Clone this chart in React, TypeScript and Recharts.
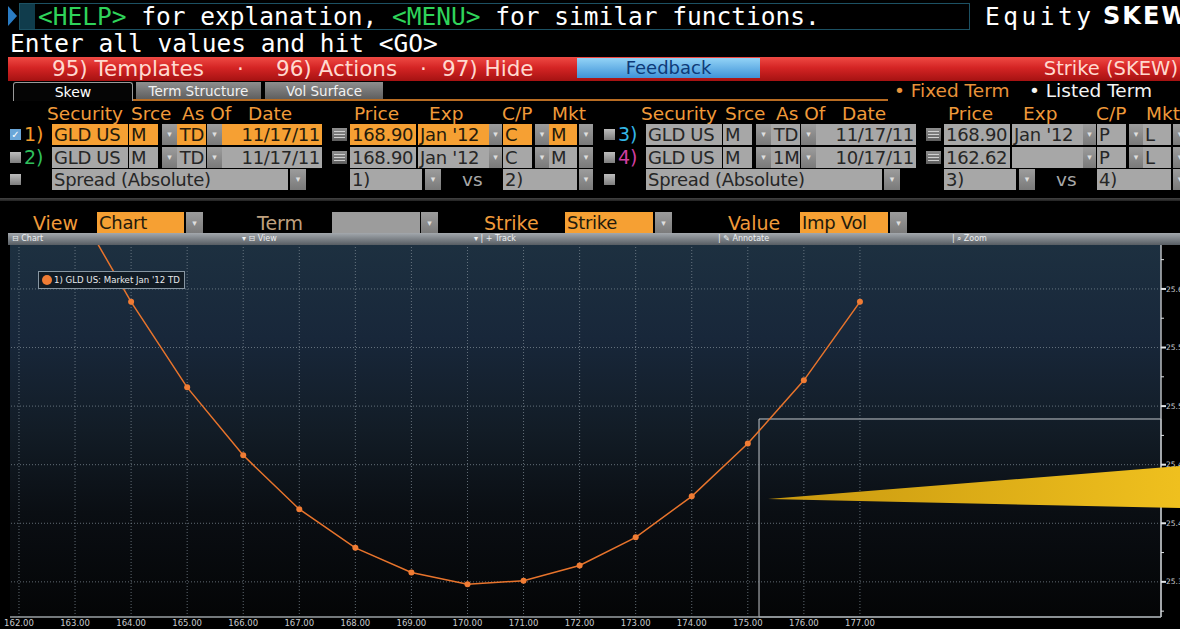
import React from "react";
import { LineChart, Line, XAxis, YAxis, ReferenceLine, ReferenceArea, Legend } from "recharts";

// ---------- chart data ----------
const strikes = [163, 164, 165, 166, 167, 168, 169, 170, 171, 172, 173, 174, 175, 176, 177];
const impVol = [25.672, 25.589, 25.516, 25.458, 25.412, 25.379, 25.358, 25.348, 25.351, 25.364, 25.388, 25.423, 25.468, 25.522, 25.589];
const strikeTicks = [162, 163, 164, 165, 166, 167, 168, 169, 170, 171, 172, 173, 174, 175, 176, 177];
const volTicks = [25.35, 25.4, 25.45, 25.5, 25.55, 25.6];
const volMinorTicks = [25.325, 25.375, 25.425, 25.475, 25.525, 25.575, 25.625];
const seriesName = "1) GLD US: Market Jan '12 TD";
const strikeDomain: [number, number] = [161.84, 182.37];
const volDomain: [number, number] = [25.32, 25.6375];
const zoomBoxStrike = 175.2;
const zoomBoxVol = 25.489;

const data = strikes.map((s, i) => ({ strike: s, vol: impVol[i] }));
const allVolTicks = [...volTicks, ...volMinorTicks].sort((a, b) => a - b);

// ---------- header data ----------
const headerLabels = ["Security", "Srce", "As Of", "Date", "Price", "Exp", "C/P", "Mkt"];
const headerOffsets = [-5, 79, 130, 196, 302, 377, 450, 500];
const rowsLeft = [
  { num: "1)", numColor: "#f39a2a", active: true, vals: ["GLD US", "M", "TD", "11/17/11", "168.90", "Jan '12", "C", "M"] },
  { num: "2)", numColor: "#2fbf5c", active: false, vals: ["GLD US", "M", "TD", "11/17/11", "168.90", "Jan '12", "C", "M"] },
];
const rowsRight = [
  { num: "3)", numColor: "#34b6e6", active: false, vals: ["GLD US", "M", "TD", "11/17/11", "168.90", "Jan '12", "P", "L"] },
  { num: "4)", numColor: "#d23fa0", active: false, vals: ["GLD US", "M", "1M", "10/17/11", "162.62", "", "P", "L"] },
];

const F = "'DejaVu Sans', sans-serif";
const MONO = "'DejaVu Sans Mono', monospace";
const ORANGE_BG = "#f6a033";
const GREY_BG = "#a7a7a7";
const LBL = "#f09a3a";

type AnyP = any;

function Txt({ x, y, h = 20, size = 18.5, color = "#fff", children, font = F, bold = false, ls = 0, w, align }: AnyP) {
  return (
    <div
      style={{
        position: "absolute",
        left: x,
        top: y,
        height: h,
        width: w,
        lineHeight: h + "px",
        fontSize: size,
        color,
        fontFamily: font,
        fontWeight: bold ? 700 : 400,
        whiteSpace: "nowrap",
        letterSpacing: ls,
        textAlign: align,
      }}
    >
      {children}
    </div>
  );
}

function Fld({ x, y, w, h = 21, bg, text = "", color = "#231a0c", align = "left" }: AnyP) {
  return (
    <div
      style={{
        position: "absolute",
        left: x,
        top: y,
        width: w,
        height: h,
        lineHeight: h + "px",
        background: bg,
        color,
        fontSize: 18,
        letterSpacing: -0.3,
        fontFamily: F,
        padding: "0 2px",
        boxSizing: "border-box",
        textAlign: align,
        whiteSpace: "nowrap",
      }}
    >
      {text}
    </div>
  );
}

function Arr({ x, y, w = 15, h = 21 }: AnyP) {
  return (
    <div
      style={{
        position: "absolute",
        left: x,
        top: y,
        width: w,
        height: h,
        background: "linear-gradient(#9c9c9c,#7a7a7a)",
        color: "#dedede",
        fontSize: 9,
        lineHeight: h + "px",
        textAlign: "center",
        fontFamily: F,
      }}
    >
      ▾
    </div>
  );
}

function Chk({ x, y, checked }: AnyP) {
  return (
    <div
      style={{
        position: "absolute",
        left: x,
        top: y,
        width: 11,
        height: 11,
        background: checked ? "#6aa6d8" : "linear-gradient(#bdbdbd,#7d7d7d)",
        color: "#fff",
        fontSize: 10,
        lineHeight: "11px",
        textAlign: "center",
        fontFamily: F,
      }}
    >
      {checked ? "✓" : ""}
    </div>
  );
}

function CalIcon({ x, y }: AnyP) {
  return (
    <div style={{ position: "absolute", left: x, top: y + 4, width: 15, height: 13, background: "linear-gradient(#8e8e8e,#5e5e5e)" }}>
      <div style={{ position: "absolute", left: 2, top: 3, width: 11, height: 1, background: "#d0d0d0" }} />
      <div style={{ position: "absolute", left: 2, top: 6, width: 11, height: 1, background: "#d0d0d0" }} />
      <div style={{ position: "absolute", left: 2, top: 9, width: 11, height: 1, background: "#d0d0d0" }} />
    </div>
  );
}

function SecurityRow({ base, y, row }: AnyP) {
  const bg = row.active ? ORANGE_BG : GREY_BG;
  const tc = row.active ? "#231a0c" : "#262626";
  const v = row.vals;
  return (
    <>
      <Chk x={base - 42} y={y + 5} checked={row.active} />
      <Txt x={base - 28} y={y} h={21} size={19} color={row.numColor}>{row.num}</Txt>
      <Fld x={base} y={y} w={76} bg={bg} color={tc} text={v[0]} />
      <Fld x={base + 77} y={y} w={29} bg={bg} color={tc} text={v[1]} />
      <Arr x={base + 110} y={y} />
      <Fld x={base + 125} y={y} w={29} bg={bg} color={tc} text={v[2]} align="right" />
      <Arr x={base + 155} y={y} />
      <Fld x={base + 170} y={y} w={100} bg={bg} color={tc} text={v[3]} align="right" />
      <CalIcon x={base + 280} y={y} />
      <Fld x={base + 298} y={y} w={66} bg={bg} color={tc} text={v[4]} />
      <Fld x={base + 366} y={y} w={71} bg={bg} color={tc} text={v[5]} />
      <Arr x={base + 437} y={y} w={13} />
      <Fld x={base + 451} y={y} w={29} bg={bg} color={tc} text={v[6]} />
      <Arr x={base + 483} y={y} w={14} />
      <Fld x={base + 497} y={y} w={28} bg={bg} color={tc} text={v[7]} />
      <Arr x={base + 527} y={y} w={14} />
    </>
  );
}

function SpreadRow({ base, y, a, b }: AnyP) {
  return (
    <>
      <Chk x={base - 42} y={y + 5} checked={false} />
      <Fld x={base} y={y} w={236} bg={GREY_BG} color="#262626" text="Spread (Absolute)" />
      <Arr x={base + 238} y={y} w={16} />
      <Fld x={base + 298} y={y} w={72} bg={GREY_BG} color="#262626" text={a} />
      <Arr x={base + 373} y={y} w={16} />
      <Txt x={base + 410} y={y} h={21} size={18.5} color="#a8a8a8">vs</Txt>
      <Fld x={base + 451} y={y} w={74} bg={GREY_BG} color="#262626" text={b} />
      <Arr x={base + 527} y={y} w={14} />
    </>
  );
}

const VolTick = (props: AnyP) => {
  const { x, y, payload } = props;
  const val = payload.value as number;
  const major = volTicks.some((t) => Math.abs(t - val) < 1e-6);
  return (
    <g>
      <line x1={x} x2={x + (major ? 5 : 3)} y1={y} y2={y} stroke="#dfe2e5" strokeWidth={major ? 2 : 1} />
      {major && (
        <text x={x + 5} y={y} dy="0.35em" fontSize={7.5} fill="#c9cdd0" fontFamily={F}>
          {val.toFixed(2)}
        </text>
      )}
    </g>
  );
};

const LegendBox = () => (
  <div
    style={{
      display: "flex",
      alignItems: "center",
      height: 16,
      border: "1px solid #8796a2",
      background: "#111b24",
      padding: "0 4px 0 3px",
      fontSize: 8.6,
      color: "#e8eaec",
      fontFamily: F,
      whiteSpace: "nowrap",
    }}
  >
    <span style={{ display: "inline-block", width: 10, height: 10, borderRadius: "50%", background: "#f07c34", marginRight: 2 }} />
    {seriesName}
  </div>
);

export default function App() {
  return (
    <div
      style={{
        position: "absolute",
        left: 0,
        top: 0,
        width: 1180,
        height: 629,
        background: "#000",
        overflow: "hidden",
        fontFamily: F,
      }}
    >
      {/* Row 1: help line */}
      <svg style={{ position: "absolute", left: 0, top: 0 }} width={40} height={34}>
        <polygon points="8,6 17,16 8,26" fill="#2a7cc4" />
        <rect x={19} y={3} width={16} height={27} fill="#103c4c" />
      </svg>
      <div style={{ position: "absolute", left: 19, top: 3, width: 951, height: 27, border: "1.5px solid #1c5163", boxSizing: "border-box" }} />
      <Txt x={38} y={3} h={27} size={24.5} font={MONO}>
        <span style={{ color: "#2fd35a" }}>&lt;HELP&gt;</span> for explanation, <span style={{ color: "#2fd35a" }}>&lt;MENU&gt;</span> for similar functions.
      </Txt>
      <Txt x={985} y={3} h={27} size={24.5} font={MONO} ls={3.5}>Equity</Txt>
      <Txt x={1103} y={3} h={27} size={24} bold ls={2}>SKEW</Txt>

      {/* Row 2 */}
      <Txt x={10} y={30} h={27} size={24.5} font={MONO}>Enter all values and hit &lt;GO&gt;</Txt>

      {/* Row 3: red bar */}
      <div style={{ position: "absolute", left: 8, top: 57, width: 1172, height: 24, background: "linear-gradient(#ef4a44 0%, #d42424 45%, #a51212 100%)" }} />
      <Txt x={52} y={57} h={24} size={21.5} color="#ffd9cf">95) Templates</Txt>
      <Txt x={237} y={57} h={24} size={21.5} color="#ffd9cf">·</Txt>
      <Txt x={276} y={57} h={24} size={21.5} color="#ffd9cf">96) Actions</Txt>
      <Txt x={420} y={57} h={24} size={21.5} color="#ffd9cf">·</Txt>
      <Txt x={442} y={57} h={24} size={21.5} color="#ffd9cf">97) Hide</Txt>
      <div
        style={{
          position: "absolute",
          left: 577,
          top: 58,
          width: 183,
          height: 20,
          background: "linear-gradient(#93d3f6, #3f93d8)",
          color: "#0d3a78",
          fontSize: 18,
          lineHeight: "20px",
          textAlign: "center",
          fontFamily: F,
        }}
      >
        Feedback
      </div>
      <Txt x={960} y={57} w={218} align="right" h={24} size={19.5} color="#ffd9cf">Strike (SKEW)</Txt>

      {/* Row 4: tabs */}
      <div style={{ position: "absolute", left: 13, top: 82, width: 120, height: 19, background: "#050505", border: "1px solid #9a9a9a", borderBottom: "none", borderRadius: "3px 3px 0 0", boxSizing: "border-box", color: "#fff", fontSize: 14, lineHeight: "18px", textAlign: "center", fontFamily: F }}>Skew</div>
      <div style={{ position: "absolute", left: 136, top: 82, width: 125, height: 18, background: "linear-gradient(#8e8e8e,#5c5c5c)", color: "#f2f2f2", fontSize: 13.5, lineHeight: "18px", textAlign: "center", fontFamily: F }}>Term Structure</div>
      <div style={{ position: "absolute", left: 265, top: 82, width: 118, height: 18, background: "linear-gradient(#8e8e8e,#5c5c5c)", color: "#f2f2f2", fontSize: 13.5, lineHeight: "18px", textAlign: "center", fontFamily: F }}>Vol Surface</div>
      <div style={{ position: "absolute", left: 133, top: 99, width: 755, height: 2, background: "#b86c22" }} />
      <Txt x={894} y={81} h={20} size={18.5} color="#e8923a">• Fixed Term</Txt>
      <Txt x={1029} y={81} h={20} size={18.5} color="#f4f4f4">• Listed Term</Txt>

      {/* Row 5: column headers */}
      {headerLabels.map((l, i) => (
        <Txt key={"hl" + i} x={52 + headerOffsets[i]} y={103} h={21} color={LBL}>{l}</Txt>
      ))}
      {headerLabels.map((l, i) => (
        <Txt key={"hr" + i} x={646 + headerOffsets[i]} y={103} h={21} color={LBL}>{l}</Txt>
      ))}

      {/* Rows 6-8 */}
      <SecurityRow base={52} y={124} row={rowsLeft[0]} />
      <SecurityRow base={52} y={147} row={rowsLeft[1]} />
      <SecurityRow base={646} y={124} row={rowsRight[0]} />
      <SecurityRow base={646} y={147} row={rowsRight[1]} />
      <SpreadRow base={52} y={169} a="1)" b="2)" />
      <SpreadRow base={646} y={169} a="3)" b="4)" />

      <div style={{ position: "absolute", left: 0, top: 198, width: 1180, height: 3, background: "linear-gradient(#444,#222)" }} />

      {/* Row 9: view selectors */}
      <Txt x={33} y={212} h={22} size={19} color={LBL}>View</Txt>
      <Fld x={97} y={212} w={87} h={22} bg={ORANGE_BG} text="Chart" />
      <Arr x={186} y={212} w={17} h={22} />
      <Txt x={257} y={212} h={22} size={19} color="#bfa07f">Term</Txt>
      <Fld x={332} y={212} w={88} h={22} bg="#9c9c9c" text="" />
      <Arr x={421} y={212} w={17} h={22} />
      <Txt x={484} y={212} h={22} size={19} color={LBL}>Strike</Txt>
      <Fld x={565} y={212} w={88} h={22} bg={ORANGE_BG} text="Strike" />
      <Arr x={655} y={212} w={17} h={22} />
      <Txt x={728} y={212} h={22} size={19} color={LBL}>Value</Txt>
      <Fld x={800} y={212} w={88} h={22} bg={ORANGE_BG} text="Imp Vol" />
      <Arr x={890} y={212} w={17} h={22} />

      {/* Toolbar strip */}
      <div style={{ position: "absolute", left: 8, top: 233, width: 1172, height: 12, background: "linear-gradient(#a3a8ad,#575d63)" }} />
      <Txt x={12} y={233} h={12} size={8} color="#eef0f2">⊟ Chart</Txt>
      <Txt x={242} y={233} h={12} size={8} color="#eef0f2">▾ ⊟ View</Txt>
      <Txt x={474} y={233} h={12} size={8} color="#eef0f2">▾ | + Track</Txt>
      <Txt x={718} y={233} h={12} size={8} color="#eef0f2">| ✎ Annotate</Txt>
      <Txt x={952} y={233} h={12} size={8} color="#eef0f2">| ⌕ Zoom</Txt>

      {/* Plot background */}
      <div
        style={{
          position: "absolute",
          left: 10,
          top: 245,
          width: 1151,
          height: 372,
          background: "linear-gradient(#1d3040 0%, #18273a 25%, #121c26 50%, #0a0e13 72%, #040506 100%)",
        }}
      />

      {/* Chart */}
      <div style={{ position: "absolute", left: 0, top: 245 }}>
        <LineChart width={1180} height={384} data={data} margin={{ top: 0, right: 0, bottom: 0, left: 10 }}>
          <XAxis
            dataKey="strike"
            type="number"
            domain={strikeDomain}
            ticks={strikeTicks}
            interval={0}
            allowDataOverflow
            height={12}
            tickSize={0}
            tickMargin={3}
            tickLine={false}
            axisLine={{ stroke: "#9aa0a5", strokeWidth: 1.5 }}
            tick={{ fontSize: 8.5, fill: "#c8cbce", fontFamily: F }}
            tickFormatter={(v: number) => v.toFixed(2)}
          />
          <YAxis
            orientation="right"
            type="number"
            domain={volDomain}
            ticks={allVolTicks}
            interval={0}
            allowDataOverflow
            width={19}
            tickSize={0}
            tickMargin={0}
            tickLine={false}
            axisLine={{ stroke: "#b8bcc0", strokeWidth: 1.5 }}
            tick={<VolTick />}
          />
          {strikeTicks.map((t) => (
            <ReferenceLine key={"vx" + t} x={t} stroke="#7f8b95" strokeDasharray="1 2" strokeOpacity={0.75} />
          ))}
          {volTicks.map((t) => (
            <ReferenceLine key={"hy" + t} y={t} stroke="#7f8b95" strokeDasharray="1 2" strokeOpacity={0.75} />
          ))}
          <ReferenceArea
            x1={zoomBoxStrike}
            x2={strikeDomain[1]}
            y1={volDomain[0]}
            y2={zoomBoxVol}
            fill="none"
            fillOpacity={0}
            stroke="#c3c7cb"
            strokeWidth={1}
            ifOverflow="visible"
          />
          <Legend
            layout="horizontal"
            verticalAlign="middle"
            align="center"
            wrapperStyle={{ left: 38, top: 26, width: "auto", height: 18 }}
            content={<LegendBox />}
          />
          <Line
            type="linear"
            dataKey="vol"
            name={seriesName}
            stroke="#e8742c"
            strokeWidth={1.5}
            dot={{ r: 3, fill: "#f07c34", stroke: "#f07c34", strokeWidth: 0 }}
            activeDot={false}
            isAnimationActive={false}
          />
        </LineChart>
      </div>

      {/* yellow pointer overlay */}
      <svg style={{ position: "absolute", left: 0, top: 0, pointerEvents: "none" }} width={1180} height={629}>
        <defs>
          <linearGradient id="wedge" x1="0" x2="1" y1="0" y2="0">
            <stop offset="0%" stopColor="#c8980f" />
            <stop offset="100%" stopColor="#efc01e" />
          </linearGradient>
        </defs>
        <polygon points="768,499 1180,466 1180,508" fill="url(#wedge)" />
      </svg>
    </div>
  );
}
